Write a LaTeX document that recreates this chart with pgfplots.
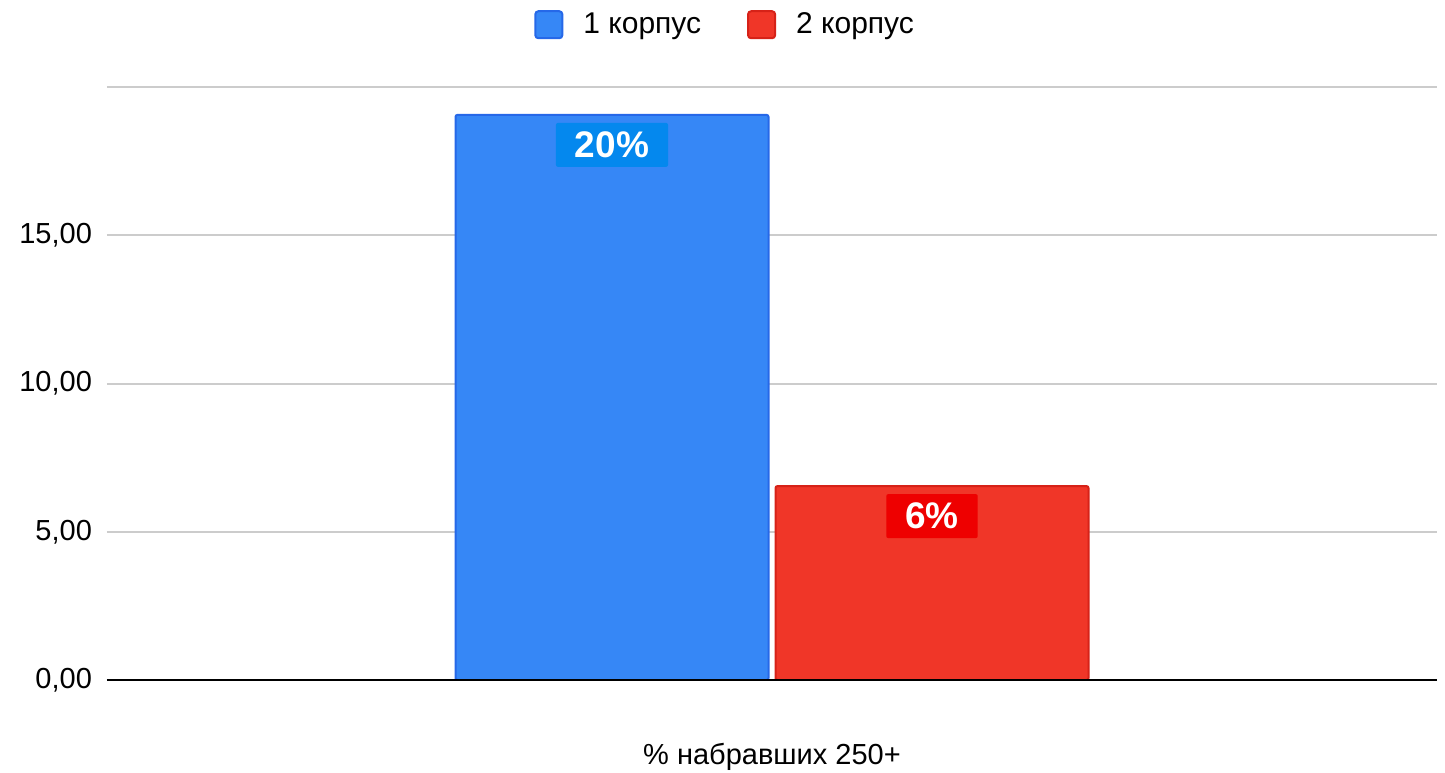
\documentclass[border=0pt]{standalone}
\usepackage{pgfplots}
\pgfplotsset{compat=1.18}
\usepackage{fontspec}
\setmainfont{Liberation Sans}

\definecolor{barblue}{RGB}{54,135,246}
\definecolor{barblueedge}{RGB}{38,104,232}
\definecolor{lblblue}{RGB}{4,136,238}
\definecolor{barred}{RGB}{240,54,40}
\definecolor{barrededge}{RGB}{214,34,24}
\definecolor{lblred}{RGB}{238,0,0}
\definecolor{gridgray}{RGB}{204,204,204}

\begin{document}
\begin{tikzpicture}
% picture frame: 1445x772 px at 0.5pt per px
\path[use as bounding box] (-53.5pt,-46pt) rectangle (669pt,340pt);
\begin{axis}[
    scale only axis,
    width=665pt, height=296.5pt,
    ybar=3.5pt, bar width=156.5pt,
    xmin=-1, xmax=1, ymin=0, ymax=20,
    xtick=\empty,
    ytick={0,5,10,15},
    extra y ticks={20}, extra y tick labels={},
    ymajorgrids=true,
    extra y tick style={grid=major},
    grid style={gridgray, line width=1pt},
    axis line style={draw=none},
    tick style={draw=none},
    tick label style={font=\fontsize{14.5}{17}\selectfont},
    yticklabel style={xshift=-4pt},
    /pgf/number format/.cd, fixed, fixed zerofill, precision=2, use comma,
      assume math mode=true,
    /pgfplots/.cd,
    xlabel={\% набравших 250+},
    xlabel style={font=\fontsize{14.5}{17}\selectfont, at={(axis description cs:0.5,0)}, anchor=base, yshift=-42pt},
    point meta=explicit symbolic,
    nodes near coords,
    nodes near coords style={anchor=north, yshift=-3.5pt, text=white,
      font=\bfseries\fontsize{18.5}{22}\selectfont, inner xsep=9.5pt,
      minimum height=22pt, rounded corners=1pt},
    legend columns=2,
    legend style={draw=none, fill=none, at={(axis description cs:0.4715,1.105)}, anchor=center,
      font=\fontsize{15}{18}\selectfont,
      /tikz/every even column/.append style={column sep=13pt},
      nodes={inner xsep=10pt}},
    legend image code/.code={\draw[#1, rounded corners=1.5pt] (0pt,-6.75pt) rectangle (13.5pt,6.75pt);},
]
\addplot[fill=barblue, draw=barblueedge, line width=1pt, rounded corners=1pt,
  every node near coord/.append style={fill=lblblue}]
  coordinates {(0,19.06) [20\%]};
\addplot[fill=barred, draw=barrededge, line width=1pt, rounded corners=1pt,
  every node near coord/.append style={fill=lblred}]
  coordinates {(0,6.54) [6\%]};
\legend{1 корпус, 2 корпус}
\draw[black, line width=1.2pt] (rel axis cs:0,0) -- (rel axis cs:1,0);
\end{axis}
\end{tikzpicture}
\end{document}
